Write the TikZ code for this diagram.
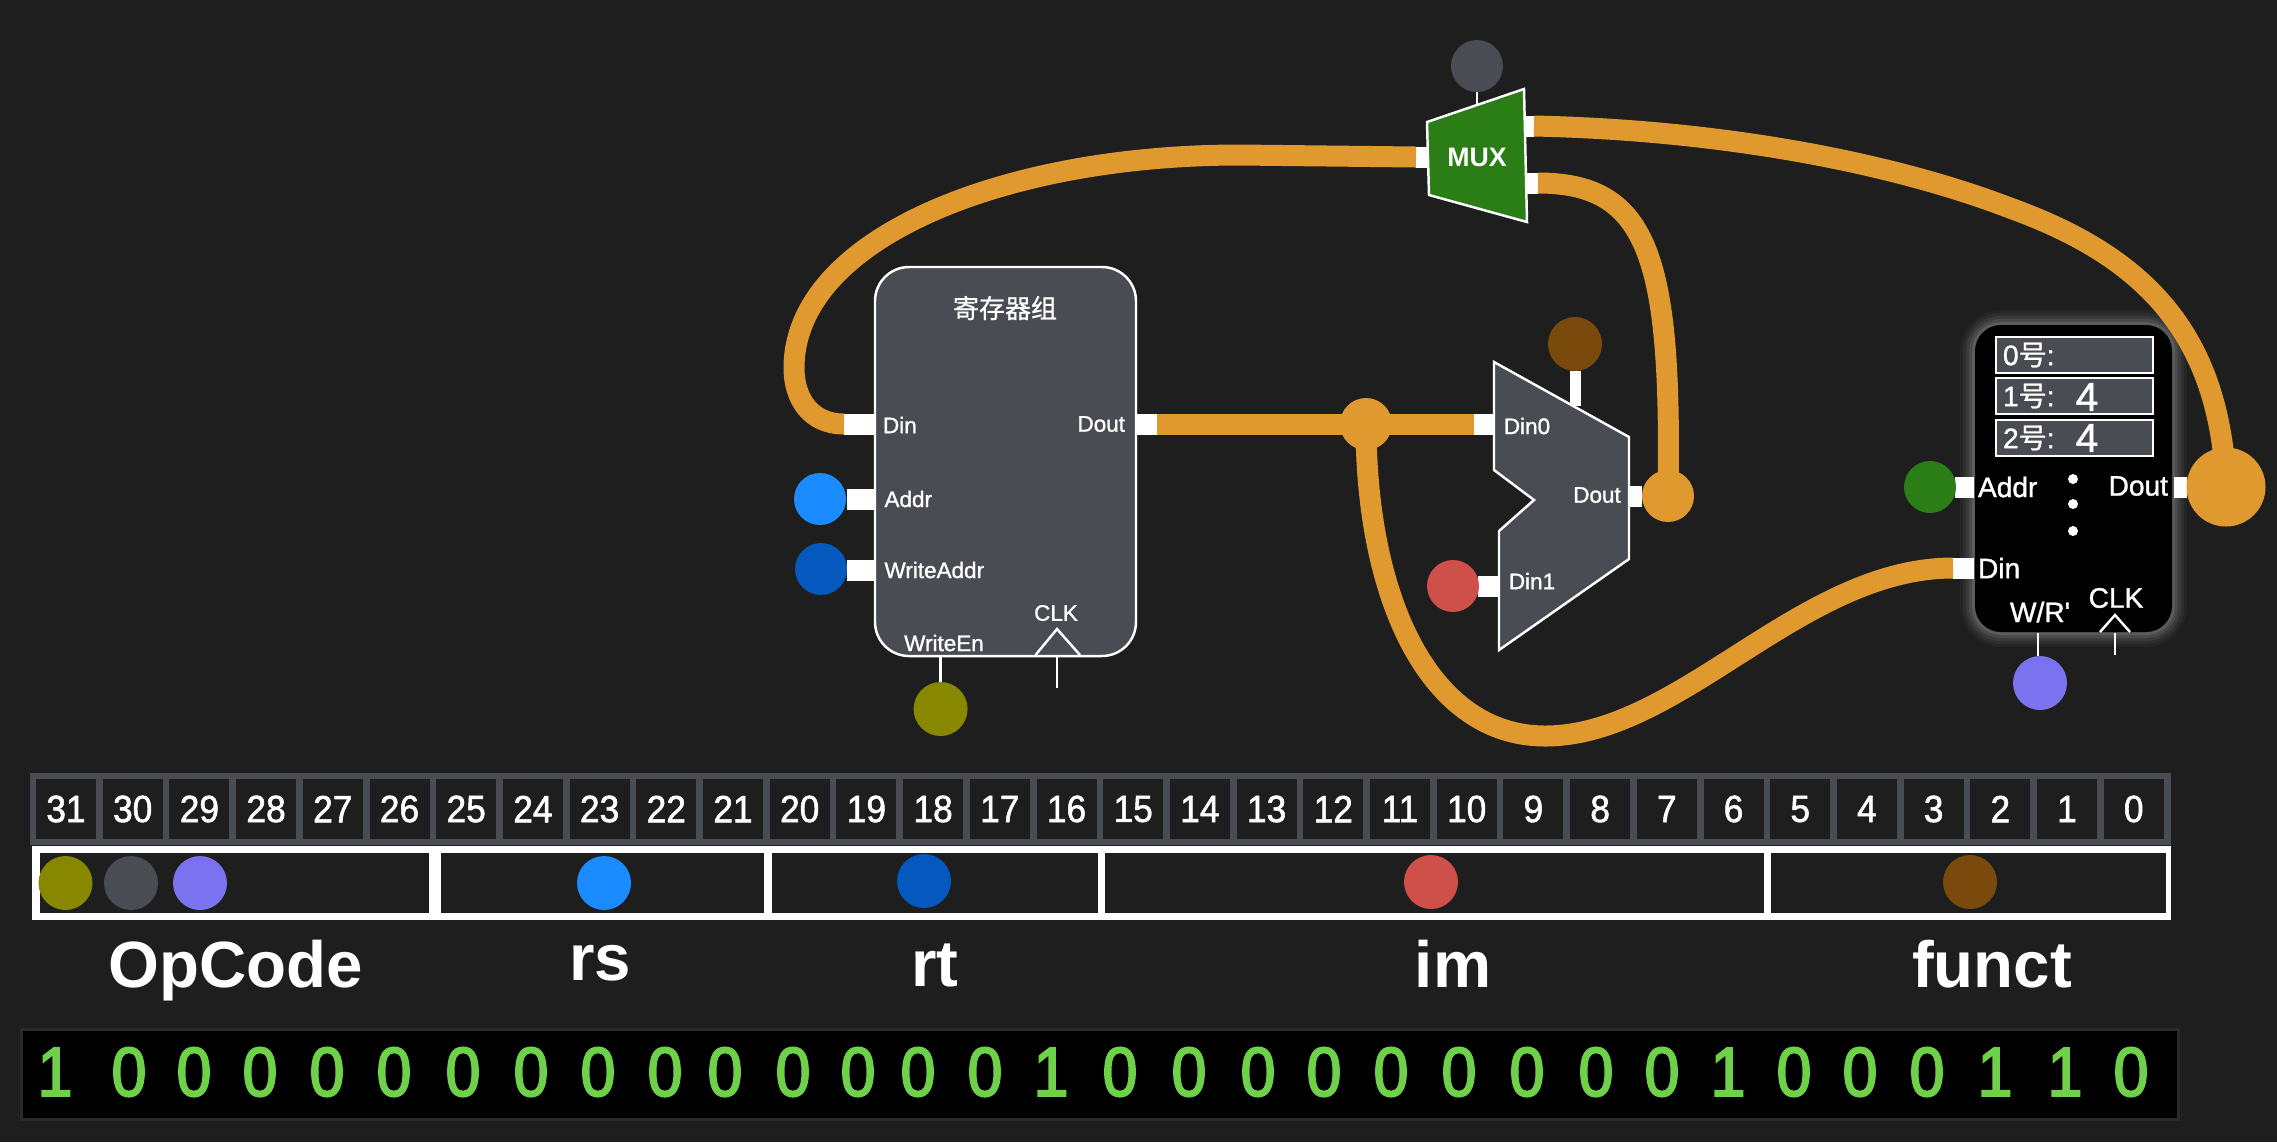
\documentclass[tikz,border=0pt]{standalone}
\usepackage{fontspec}
\setmainfont{Liberation Sans}
\newfontfamily\medfont{Liberation Sans}[FakeBold=1.2]
\newfontfamily\numfont{Liberation Sans}[FakeBold=1.4, FakeStretch=0.93]
\newfontfamily\codefont{Liberation Sans}[FakeBold=2.6, FakeStretch=0.9]
\newfontfamily\cjk{Noto Sans CJK SC}[FakeBold=0.8]
\usetikzlibrary{calc, positioning}

\definecolor{bg_dark}{HTML}{1E1E1F}
\definecolor{box_gray}{HTML}{4A4C53}
\definecolor{wire_orange}{HTML}{E0992F}
\definecolor{mux_green}{HTML}{2B7D16}
\definecolor{bit_green}{HTML}{6FD04A}
\definecolor{c_olive}{HTML}{878700}
\definecolor{c_purple}{HTML}{7B72F0}
\definecolor{c_blue}{HTML}{1A8CFF}
\definecolor{c_darkblue}{HTML}{0558BE}
\definecolor{c_red}{HTML}{CF4F4A}
\definecolor{c_brown}{HTML}{7A4A0C}

\begin{document}
\begin{tikzpicture}[
        box_reg/.style={draw=white, line width=0.7pt, rounded corners=0.34cm, fill=box_gray, inner sep=0pt, outer sep=0pt},
        box_ram/.style={rounded corners=0.26cm, fill=black, inner sep=0pt, outer sep=0pt,
            preaction={draw=white, line width=0.30cm, opacity=0.035},
            preaction={draw=white, line width=0.24cm, opacity=0.045},
            preaction={draw=white, line width=0.18cm, opacity=0.06},
            preaction={draw=white, line width=0.12cm, opacity=0.08},
            preaction={draw=white, line width=0.06cm, opacity=0.10}},
        box_cell/.style={draw=white, line width=0.7pt, fill=box_gray, inner sep=0pt, outer sep=0pt, minimum width=1.57cm, minimum height=0.36cm},
        box_alu/.style={draw=white, line width=0.7pt, fill=box_gray, line join=miter},
        box_mux/.style={draw=white, line width=0.7pt, fill=mux_green, line join=miter},
        box_flat/.style={inner sep=0pt, outer sep=0pt},
        port/.style={fill=white, inner sep=0pt, outer sep=0pt, minimum height=0.21cm},
        wire/.style={draw=wire_orange, line width=0.21cm},
        stem/.style={draw=white, line width=0.7pt},
        dot/.style={circle, inner sep=0pt, outer sep=0pt, minimum size=0.52cm},
        lbl/.style={text=white, inner sep=0pt, outer sep=0pt, font=\medfont\fontsize{6.4pt}{7pt}\selectfont},
        lbl_ram/.style={text=white, inner sep=0pt, outer sep=0pt, font=\medfont\fontsize{8pt}{9pt}\selectfont},
        lbl_field/.style={text=white, inner sep=0pt, outer sep=0pt, anchor=base, font=\bfseries\fontsize{18.6pt}{20pt}\selectfont}
    ]

    \useasboundingbox (0, 0) rectangle (22.77, -11.42);
    \fill[bg_dark] (0, 0) rectangle (22.77, -11.42);

    % ==================== Register file ====================
    \node[box_reg, minimum width=2.61cm, minimum height=3.89cm] (reg) at (10.055, -4.615) {};
    \node[lbl, font=\fontsize{7.4pt}{8pt}\selectfont\cjk] (reg_title) at (10.05, -3.08) {寄存器组};

    \node[port, minimum width=0.31cm] (port_reg_din) at (8.595, -4.24) {};
    \node[port, minimum width=0.28cm] (port_reg_addr) at (8.61, -4.99) {};
    \node[port, minimum width=0.28cm] (port_reg_waddr) at (8.61, -5.70) {};
    \node[port, minimum width=0.21cm] (port_reg_dout) at (11.465, -4.24) {};

    \node[lbl, anchor=west] (lbl_reg_din) at (8.83, -4.25) {Din};
    \node[lbl, anchor=west] (lbl_reg_addr) at (8.845, -4.99) {Addr};
    \node[lbl, anchor=west] (lbl_reg_waddr) at (8.845, -5.70) {WriteAddr};
    \node[lbl, anchor=east] (lbl_reg_dout) at (11.25, -4.24) {Dout};
    \node[lbl] (lbl_reg_wen) at (9.44, -6.43) {WriteEn};
    \node[lbl] (lbl_reg_clk) at (10.56, -6.13) {CLK};

    \node[dot, fill=c_blue] (dot_addr) at (8.20, -4.99) {};
    \node[dot, fill=c_darkblue] (dot_waddr) at (8.21, -5.69) {};
    \node[dot, fill=c_olive, minimum size=0.54cm] (dot_wen) at (9.406, -7.09) {};

    % clock mark and control lines
    \coordinate (reg_clk_l) at (10.355, -6.55);
    \coordinate (reg_clk_t) at (10.57, -6.29);
    \coordinate (reg_clk_r) at (10.80, -6.55);
    \coordinate (reg_clk_end) at (10.57, -6.88);
    \coordinate (reg_wen_top) at (9.406, -6.56);
    \draw[stem, line join=miter] (reg_clk_l) -- (reg_clk_t) -- (reg_clk_r);
    \draw[stem] (10.57, -6.56) -- (reg_clk_end);
    \draw[stem] (reg_wen_top) -- (dot_wen.north);

    % ==================== MUX ====================
    \draw[box_mux] (14.27, -1.22) -- (15.24, -0.89) -- (15.27, -2.22) -- (14.29, -1.95) -- cycle;
    \node[lbl, font=\bfseries\fontsize{7.6pt}{8pt}\selectfont] (lbl_mux) at (14.77, -1.57) {MUX};

    \node[port, minimum width=0.12cm] (port_mux_in) at (14.22, -1.57) {};
    \node[port, minimum width=0.10cm] (port_mux_out1) at (15.29, -1.26) {};
    \node[port, minimum width=0.12cm] (port_mux_out2) at (15.32, -1.83) {};

    \node[dot, fill=box_gray] (dot_mux) at (14.77, -0.66) {};
    \coordinate (mux_sel) at (14.77, -1.05);
    \draw[stem] (dot_mux.south) -- (mux_sel);

    % ==================== ALU side selector ====================
    \draw[box_alu] (14.94, -3.62) -- (16.29, -4.37) -- (16.29, -5.59) -- (14.99, -6.50) -- (14.99, -5.31) -- (15.34, -5.00) -- (14.94, -4.70) -- cycle;

    \node[port, minimum width=0.21cm] (port_alu_din0) at (14.845, -4.24) {};
    \node[port, minimum width=0.21cm] (port_alu_din1) at (14.885, -5.86) {};
    \node[port, minimum width=0.13cm] (port_alu_dout) at (16.355, -4.96) {};

    \node[lbl] (lbl_alu_din0) at (15.27, -4.26) {Din0};
    \node[lbl] (lbl_alu_din1) at (15.32, -5.81) {Din1};
    \node[lbl] (lbl_alu_dout) at (15.97, -4.95) {Dout};

    \node[dot, fill=c_red] (dot_din1) at (14.53, -5.86) {};
    \node[dot, fill=c_brown, minimum size=0.54cm] (dot_funct) at (15.75, -3.44) {};
    \coordinate (alu_sel) at (15.75, -4.06);
    \draw[draw=white, line width=0.11cm] (dot_funct.south) -- (alu_sel);

    % ==================== RAM ====================
    \node[box_ram, minimum width=1.97cm, minimum height=3.07cm] (ram) at (20.735, -4.785) {};

    \node[box_cell] (cell_0) at (20.745, -3.55) {};
    \node[box_cell] (cell_1) at (20.745, -3.96) {};
    \node[box_cell] (cell_2) at (20.745, -4.38) {};
    \node[lbl_ram, anchor=west] (lbl_cell_0) at (20.03, -3.55) {0{\cjk 号}:};
    \node[lbl_ram, anchor=west] (lbl_cell_1) at (20.03, -3.96) {1{\cjk 号}:};
    \node[lbl_ram, anchor=west] (lbl_cell_2) at (20.03, -4.38) {2{\cjk 号}:};
    \node[lbl, font=\medfont\fontsize{11.5pt}{12pt}\selectfont] (val_cell_1) at (20.87, -3.97) {4};
    \node[lbl, font=\medfont\fontsize{11.5pt}{12pt}\selectfont] (val_cell_2) at (20.87, -4.38) {4};

    \node[port, minimum width=0.19cm] (port_ram_addr) at (19.645, -4.87) {};
    \node[port, minimum width=0.21cm] (port_ram_din) at (19.635, -5.68) {};
    \node[port, minimum width=0.13cm] (port_ram_dout) at (21.805, -4.87) {};

    \node[lbl_ram, anchor=west] (lbl_ram_addr) at (19.78, -4.87) {Addr};
    \node[lbl_ram, anchor=west] (lbl_ram_din) at (19.78, -5.68) {Din};
    \node[lbl_ram, anchor=east] (lbl_ram_dout) at (21.68, -4.86) {Dout};
    \node[lbl_ram] (lbl_ram_wr) at (20.40, -6.12) {W/R'};
    \node[lbl_ram] (lbl_ram_clk) at (21.16, -5.98) {CLK};

    \fill[white] (20.73, -4.79) circle (0.05) (20.73, -5.04) circle (0.05) (20.73, -5.31) circle (0.05);

    \node[dot, fill=mux_green] (dot_ram_addr) at (19.30, -4.87) {};
    \node[dot, fill=c_purple, minimum size=0.54cm] (dot_ram_wr) at (20.40, -6.83) {};

    \coordinate (ram_clk_l) at (21.00, -6.32);
    \coordinate (ram_clk_t) at (21.15, -6.15);
    \coordinate (ram_clk_r) at (21.30, -6.32);
    \coordinate (ram_clk_top) at (21.15, -6.33);
    \coordinate (ram_clk_end) at (21.15, -6.55);
    \coordinate (ram_wr_top) at (20.38, -6.33);
    \draw[stem, line join=miter] (ram_clk_l) -- (ram_clk_t) -- (ram_clk_r);
    \draw[stem] (ram_clk_top) -- (ram_clk_end);
    \draw[stem] (ram_wr_top) -- (20.38, -6.56);

    % ==================== Wires ====================
    \node[dot, fill=wire_orange] (dot_jct) at (13.66, -4.24) {};
    \node[dot, fill=wire_orange] (dot_alu_dout) at (16.68, -4.96) {};
    \node[dot, fill=wire_orange, minimum size=0.79cm] (dot_ram_dout) at (22.26, -4.87) {};

    \draw[wire] (port_reg_din.west) .. controls (8.1, -4.24) and (7.94, -3.98) .. (7.94, -3.68)
        .. controls (7.94, -2.4) and (10.0, -1.55) .. (12.4, -1.55) -- (port_mux_in.west);
    \draw[wire] (port_reg_dout.east) -- (port_alu_din0.west);
    \draw[wire] (dot_jct.center) .. controls (13.66, -6.0) and (14.3, -7.36) .. (15.45, -7.36)
        .. controls (16.8, -7.36) and (18.0, -5.68) .. (port_ram_din.west);
    \draw[wire] (port_mux_out2.east) .. controls (16.5, -1.83) and (16.72, -2.6) .. (dot_alu_dout.center);
    \draw[wire] (port_mux_out1.east) .. controls (17.2, -1.30) and (18.9, -1.62) .. (20.1, -2.08)
        .. controls (21.4, -2.55) and (22.2, -3.3) .. (dot_ram_dout.center);

    % ==================== Bit numbers ====================
    \node[box_flat, fill=box_gray, minimum width=21.41cm, minimum height=0.72cm] (table_bits) at (11.005, -8.09) {};
    \foreach \b [count=\i from 0] in {31,30,...,0} {
        \node[box_flat, fill=bg_dark, minimum width=0.60cm, minimum height=0.60cm, text=white, font=\numfont\fontsize{10.8pt}{11pt}\selectfont] (bit_\b) at ({0.66+0.667*\i}, -8.09) {\b};
    }

    % ==================== Instruction fields ====================
    \node[box_flat, fill=white, minimum width=21.39cm, minimum height=0.74cm] (table_fields) at (11.015, -8.83) {};
    \node[box_flat, fill=bg_dark, minimum width=3.89cm, minimum height=0.60cm] (field_op) at (2.345, -8.83) {};
    \node[box_flat, fill=bg_dark, minimum width=3.23cm, minimum height=0.60cm] (field_rs) at (6.025, -8.83) {};
    \node[box_flat, fill=bg_dark, minimum width=3.26cm, minimum height=0.60cm] (field_rt) at (9.35, -8.83) {};
    \node[box_flat, fill=bg_dark, minimum width=6.59cm, minimum height=0.60cm] (field_im) at (14.345, -8.83) {};
    \node[box_flat, fill=bg_dark, minimum width=3.95cm, minimum height=0.60cm] (field_funct) at (19.685, -8.83) {};

    \node[dot, fill=c_olive, minimum size=0.54cm] (key_wen) at (0.655, -8.83) {};
    \node[dot, fill=box_gray, minimum size=0.54cm] (key_mux) at (1.31, -8.83) {};
    \node[dot, fill=c_purple, minimum size=0.54cm] (key_wr) at (2.00, -8.83) {};
    \node[dot, fill=c_blue, minimum size=0.54cm] (key_addr) at (6.04, -8.83) {};
    \node[dot, fill=c_darkblue, minimum size=0.54cm] (key_waddr) at (9.24, -8.81) {};
    \node[dot, fill=c_red, minimum size=0.54cm] (key_din1) at (14.31, -8.82) {};
    \node[dot, fill=c_brown, minimum size=0.54cm] (key_funct) at (19.70, -8.82) {};

    \node[lbl_field] (lbl_op) at (2.36, -9.87) {OpCode};
    \node[lbl_field] (lbl_rs) at (6.00, -9.80) {rs};
    \node[lbl_field] (lbl_rt) at (9.35, -9.86) {rt};
    \node[lbl_field] (lbl_im) at (14.53, -9.87) {im};
    \node[lbl_field] (lbl_funct) at (19.92, -9.87) {funct};

    % ==================== Machine code ====================
    \node[box_flat, fill=black, minimum width=21.54cm, minimum height=0.87cm,
        preaction={draw=gray, line width=0.06cm, opacity=0.12}] (strip) at (11.0, -10.745) {};
    \foreach \v/\cx [count=\i from 0] in {1/0.55,0/1.29,0/1.94,0/2.60,0/3.27,0/3.94,0/4.63,0/5.31,0/5.98,0/6.65,0/7.25,0/7.93,0/8.58,0/9.18,0/9.85,1/10.51,
            0/11.20,0/11.89,0/12.58,0/13.24,0/13.91,0/14.59,0/15.27,0/15.96,0/16.62,1/17.28,0/17.94,0/18.60,0/19.27,1/19.95,1/20.65,0/21.31} {
        \node[box_flat, text=bit_green, font=\codefont\fontsize{19.8pt}{20pt}\selectfont] (code_\i) at (\cx, -10.72) {\v};
    }

\end{tikzpicture}
\end{document}
